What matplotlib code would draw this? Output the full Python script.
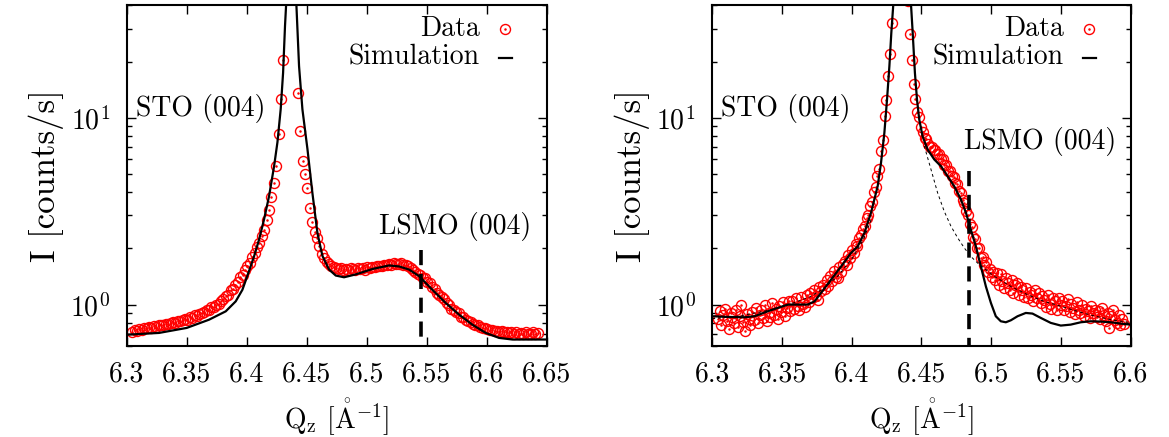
import numpy as np
import matplotlib
matplotlib.use("Agg")
import matplotlib.pyplot as plt
from matplotlib.ticker import LogLocator, NullFormatter, FixedLocator, FixedFormatter, LogFormatterSciNotation

plt.rcParams["font.family"] = "cmr10"
plt.rcParams["mathtext.fontset"] = "cm"
plt.rcParams["axes.formatter.use_mathtext"] = True
plt.rcParams["font.size"] = 20

# ---------------- panel (a): measured scan ----------------
qz_a_start, qz_a_step = 6.3045, 0.002
int_a = [
    0.71, 0.73, 0.725, 0.74, 0.735, 0.75, 0.745, 0.76, 0.75, 0.765,
    0.76, 0.775, 0.78, 0.775, 0.79, 0.785, 0.80, 0.81, 0.80, 0.82,
    0.815, 0.83, 0.84, 0.83, 0.855, 0.85, 0.875, 0.87, 0.895, 0.90,
    0.91, 0.935, 0.93, 0.965, 0.975, 1.00, 1.01, 1.05, 1.07, 1.11,
    1.13, 1.19, 1.21, 1.28, 1.32, 1.40, 1.44, 1.53, 1.60, 1.67,
    1.79, 1.88, 2.03, 2.13, 2.33, 2.50, 2.85, 3.22, 3.78, 4.45,
    5.5, 8.2, 12.6, 20.5, 45, 85, 120, 95, 48, 13.5,
    8.5, 5.9, 5.0, 4.2, 3.3, 2.75, 2.45, 2.28, 2.05, 1.87,
    1.77, 1.70, 1.64, 1.60, 1.58, 1.56, 1.55, 1.56, 1.54, 1.55,
    1.53, 1.56, 1.55, 1.54, 1.57, 1.55, 1.56, 1.54, 1.58, 1.57,
    1.59, 1.58, 1.60, 1.61, 1.60, 1.63, 1.62, 1.64, 1.63, 1.66,
    1.65, 1.64, 1.66, 1.63, 1.62, 1.60, 1.57, 1.54, 1.50, 1.46,
    1.44, 1.39, 1.38, 1.32, 1.30, 1.24, 1.21, 1.16, 1.13, 1.10,
    1.07, 1.02, 1.00, 0.95, 0.94, 0.91, 0.90, 0.86, 0.86, 0.83,
    0.82, 0.81, 0.79, 0.78, 0.775, 0.76, 0.75, 0.745, 0.74, 0.73,
    0.735, 0.72, 0.725, 0.715, 0.72, 0.71, 0.715, 0.705, 0.71, 0.70,
    0.71, 0.70, 0.705, 0.70, 0.71, 0.695, 0.70, 0.71, 0.70, 0.705,
]

# panel (a): simulated curve
sim_a_qz = [6.300, 6.3269, 6.350, 6.3686, 6.3825, 6.3908, 6.3964, 6.4019, 6.4061,
            6.4103, 6.4144, 6.4186, 6.4228, 6.4256, 6.4283, 6.4303, 6.4319, 6.4328,
            6.4345, 6.437, 6.4395, 6.4414, 6.4436, 6.4464, 6.4506, 6.4547, 6.4589,
            6.4631, 6.4686, 6.4742, 6.4811, 6.4908, 6.5047, 6.5186, 6.527, 6.5353,
            6.5436, 6.5547, 6.5658, 6.5769, 6.5881, 6.5992, 6.6103, 6.6214, 6.650]
sim_a_int = [0.69, 0.705, 0.75, 0.83, 0.92, 1.04, 1.20, 1.51, 1.81,
             2.23, 2.85, 3.8, 5.5, 7.4, 11.1, 17.4, 31.0, 40.0,
             70.0, 150.0, 70.0, 40.0, 18.9, 11.1, 6.8, 3.97, 2.42,
             1.82, 1.54, 1.43, 1.40, 1.45, 1.55, 1.62, 1.60, 1.54,
             1.42, 1.20, 1.02, 0.884, 0.78, 0.705, 0.663, 0.65, 0.65]

# ---------------- panel (b): measured scan ----------------
qz_b_start, qz_b_step = 6.3040, 0.0013
int_b = [
    0.84, 0.92, 0.78, 0.88, 0.95, 0.82, 0.74, 0.90, 0.86, 0.80,
    0.93, 0.76, 0.87, 1.00, 0.81, 0.72, 0.89, 0.84, 0.78, 0.91,
    0.83, 0.96, 0.80, 0.88, 0.93, 0.85, 0.99, 0.82, 0.90, 0.86,
    1.02, 0.88, 0.95, 0.84, 0.98, 0.91, 1.03, 0.87, 0.96, 1.05,
    0.92, 1.04, 0.95, 1.09, 0.98, 0.93, 1.10, 1.01, 0.97, 1.12,
    1.03, 1.15, 1.08, 1.20, 1.11, 1.06, 1.24, 1.18, 1.28, 1.21,
    1.36, 1.26, 1.42, 1.33, 1.52, 1.40, 1.38, 1.58, 1.49, 1.64,
    1.72, 1.62, 1.85, 1.78, 1.95, 1.88, 2.12, 2.05, 2.28, 2.35,
    2.55, 2.62, 2.92, 3.00, 3.35, 3.55, 4.00, 4.25, 4.90, 5.30,
    6.6, 7.6, 10.2, 12.5, 16.8, 22.0, 32.0, 55, 90, 140,
    180, 190, 160, 110, 70, 42, 28.0, 20.5, 15.2, 12.6,
    10.8, 10.1, 8.9, 8.4, 7.8, 7.7, 7.2, 7.0, 7.0, 6.7,
    6.7, 6.4, 6.4, 6.0, 6.0, 5.6, 5.6, 5.2, 5.2, 4.9,
    4.8, 4.5, 4.4, 4.05, 3.95, 3.65, 3.5, 3.15, 3.0, 2.7,
    2.6, 2.3, 2.25, 2.0, 2.02, 1.78, 1.80, 1.62, 1.68, 1.50,
    1.55, 1.41, 1.50, 1.36, 1.47, 1.28, 1.45, 1.33, 1.22, 1.38,
    1.31, 1.20, 1.35, 1.16, 1.27, 1.30, 1.12, 1.24, 1.19, 1.10,
    1.22, 1.08, 1.17, 1.13, 1.04, 1.20, 1.09, 1.15, 1.02, 1.11,
    1.06, 0.97, 1.13, 1.01, 0.95, 1.09, 1.04, 0.93, 1.08, 0.99,
    1.05, 0.93, 0.98, 1.07, 0.91, 1.01, 0.96, 0.89, 1.03, 0.94,
    0.90, 0.99, 0.87, 0.95, 0.92, 0.85, 0.98, 0.90, 0.94, 0.86,
    0.92, 0.84, 0.96, 0.88, 0.82, 0.90, 0.75, 0.87, 0.93, 0.83,
    0.80, 0.88, 0.78, 0.84, 0.79,
]

# panel (b): simulated curve (film + substrate)
sim_b_qz = [6.3000, 6.3112, 6.3232, 6.3303, 6.3399, 6.3470, 6.3542, 6.3613, 6.3685,
            6.3733, 6.3780, 6.3852, 6.3924, 6.3995, 6.4043, 6.4091, 6.4138, 6.4186,
            6.4210, 6.4234, 6.4253, 6.4270, 6.4284, 6.4298, 6.4330, 6.4362, 6.4395,
            6.4425, 6.4437, 6.4453, 6.4468, 6.4484, 6.4508, 6.4544, 6.4592, 6.4640,
            6.4687, 6.4735, 6.4783, 6.4819, 6.4854, 6.4890, 6.4926, 6.4962, 6.4998,
            6.5033, 6.5069, 6.5105, 6.5141, 6.5189, 6.5248, 6.5296, 6.5356, 6.5427,
            6.5499, 6.5570, 6.5642, 6.5714, 6.5785, 6.5857, 6.5928, 6.6000]
sim_b_int = [0.866, 0.859, 0.855, 0.866, 0.921, 0.96, 1.0, 1.0, 1.0,
             1.04, 1.155, 1.36, 1.60, 1.89, 2.05, 2.42, 3.1, 4.3,
             5.74, 8.3, 12.5, 18.9, 28.6, 40.4, 90.0, 160.0, 90.0,
             40.4, 28.6, 17.4, 12.5, 9.8, 7.96, 6.76, 5.98, 5.5,
             4.87, 4.3, 3.65, 3.1, 2.52, 2.05, 1.60, 1.25, 1.02,
             0.866, 0.814, 0.804, 0.824, 0.866, 0.902, 0.895, 0.848, 0.798,
             0.772, 0.781, 0.804, 0.814, 0.811, 0.804, 0.791, 0.781]

# panel (b): substrate-only simulation (thin dashed); the stretch under
# the substrate peak is left out (NaN) because it sits behind the solid curve
sub_b_qz = [6.300, 6.320, 6.340, 6.355, 6.370, 6.380, 6.390, 6.400, 6.408,
            6.414, 6.430,
            6.452, 6.4568, 6.4616, 6.4663,
            6.4711, 6.4759, 6.4807, 6.4854, 6.4902, 6.5021, 6.5141, 6.526,
            6.5379, 6.5499, 6.5618, 6.5737, 6.5857, 6.600]
sub_b_int = [0.84, 0.87, 0.93, 1.0, 1.10, 1.22, 1.42, 1.75, 2.2,
             2.85, np.nan,
             7.06, 5.3, 3.96, 3.16,
             2.63, 2.28, 2.01, 1.81, 1.67, 1.42, 1.25, 1.13,
             1.04, 0.98, 0.92, 0.87, 0.83, 0.80]

# axis settings
xlim_a, xlim_b = (6.3, 6.65), (6.3, 6.6)
ylim = (0.6, 40.0)
xticks_a = [6.3, 6.35, 6.4, 6.45, 6.5, 6.55, 6.6, 6.65]
xticklabels_a = ["6.3", "6.35", "6.4", "6.45", "6.5", "6.55", "6.6", "6.65"]
xticks_b = [6.3, 6.35, 6.4, 6.45, 6.5, 6.55, 6.6]
xticklabels_b = ["6.3", "6.35", "6.4", "6.45", "6.5", "6.55", "6.6"]

# LSMO (004) peak markers: position and top of the dashed bar
lsmo_a = (6.545, 1.95)
lsmo_b = (6.484, 5.2)

RED = "#ff0000"
MS, MEW = 7.2, 1.0

fig = plt.figure(figsize=(11.69, 4.37), dpi=100)
ax_a = fig.add_axes([0.1084, 0.2082, 0.3593, 0.7797])
ax_b = fig.add_axes([0.6093, 0.2082, 0.3579, 0.7797])


def draw_panel(ax, qz0, dqz, inten, sim_q, sim_i, xlim, xticks, xlabels, lsmo,
               sto_xy, lsmo_xy):
    inten = np.asarray(inten)
    qz = qz0 + dqz * np.arange(len(inten))
    ax.plot(qz, inten, linestyle="none", marker="o", markersize=MS,
            markerfacecolor="none", markeredgecolor=RED, markeredgewidth=MEW,
            zorder=2)
    ax.plot(qz, inten, linestyle="none", marker=".", markersize=1.6,
            color=RED, zorder=2)
    ax.plot(sim_q, sim_i, color="black", lw=1.6, zorder=4)
    ax.plot([lsmo[0], lsmo[0]], [lsmo[1], 0.5], color="black", lw=2.6,
            linestyle=(0, (4.2, 2.4)), zorder=5)

    ax.set_yscale("log")
    ax.set_xlim(*xlim)
    ax.set_ylim(*ylim)
    ax.xaxis.set_major_locator(FixedLocator(xticks))
    ax.xaxis.set_major_formatter(FixedFormatter(xlabels))
    ax.yaxis.set_major_locator(LogLocator(base=10))
    ax.yaxis.set_major_formatter(LogFormatterSciNotation())
    ax.yaxis.set_minor_locator(LogLocator(base=10, subs=np.arange(2, 10)))
    ax.yaxis.set_minor_formatter(NullFormatter())
    ax.tick_params(which="both", direction="in", top=True, right=True, width=1.0)
    ax.tick_params(which="major", length=6.5)
    ax.tick_params(which="minor", length=3.6)
    ax.tick_params(axis="x", pad=11)
    ax.tick_params(axis="y", pad=12)
    for sp in ax.spines.values():
        sp.set_linewidth(1.5)

    ax.set_xlabel(r"$\mathrm{Q_z}$ $[\mathring{\mathrm{A}}^{-1}]$", labelpad=6)
    ax.set_ylabel("I [counts/s]", fontsize=25, labelpad=4)

    ax.text(sto_xy[0], sto_xy[1], "STO (004)", ha="left", va="baseline")
    ax.text(lsmo_xy[0], lsmo_xy[1], "LSMO (004)", ha="left", va="baseline")

    # key, text right-aligned with the sample to its right
    tr = ax.transAxes
    ax.text(0.840, 0.910, "Data", transform=tr, ha="right", va="baseline")
    ax.text(0.840, 0.825, "Simulation", transform=tr, ha="right", va="baseline")
    ax.plot([0.901], [0.9295], transform=tr, linestyle="none", marker="o",
            markersize=MS, markerfacecolor="none", markeredgecolor=RED,
            markeredgewidth=MEW, clip_on=False)
    ax.plot([0.901], [0.9295], transform=tr, linestyle="none", marker=".",
            markersize=1.6, color=RED, clip_on=False)
    ax.plot([0.887, 0.918], [0.8444, 0.8444], transform=tr, color="black",
            lw=1.6, clip_on=False)


draw_panel(ax_a, qz_a_start, qz_a_step, int_a, sim_a_qz, sim_a_int, xlim_a,
           xticks_a, xticklabels_a, lsmo_a, (6.3075, 10.2), (6.5103, 2.39))
draw_panel(ax_b, qz_b_start, qz_b_step, int_b, sim_b_qz, sim_b_int, xlim_b,
           xticks_b, xticklabels_b, lsmo_b, (6.3064, 10.2), (6.4807, 6.82))
ax_b.plot(sub_b_qz, sub_b_int, color="black", lw=0.7, linestyle=(0, (3, 3)),
          zorder=3)

fig.savefig("out.png", dpi=100)
